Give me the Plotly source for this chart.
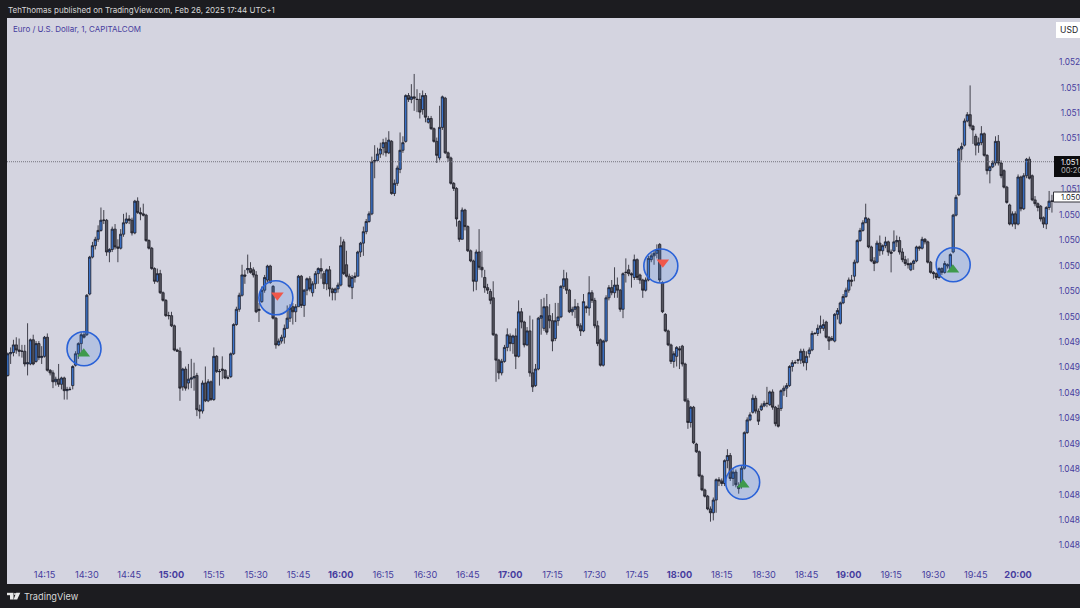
import plotly.graph_objects as go

PRICE_BASE = 1.04
FIRST_MINUTE = 842  # 14:02

opens_pts = [
953,970,971,977,973,972,972,962,962,981,964,978,967,968,983,957,955,948,950,946,
951,941,942,945,961,970,978,985,985,1017,1046,1055,1060,1067,1075,1075,1050,1052,1068,1054,
1053,1064,1073,1076,1075,1065,1090,1081,1080,1079,1059,1053,1037,1027,1033,1018,1012,1000,1000,992,
973,972,944,958,947,950,951,953,926,925,947,933,948,934,968,956,958,957,951,952,
970,993,1005,1016,1032,1036,1037,1036,1032,1004,1011,1020,1028,1039,1023,998,977,980,983,990,
998,1007,1003,1007,1031,1008,1020,1029,1018,1025,1033,1037,1033,1025,1036,1021,1018,1021,1024,1058,
1040,1031,1022,1030,1031,1050,1057,1066,1074,1080,1121,1122,1127,1132,1136,1128,1137,1096,1104,1115,
1130,1137,1173,1170,1172,1170,1170,1162,1173,1152,1155,1147,1137,1124,1148,1171,1128,1124,1104,1100,
1074,1060,1083,1070,1051,1043,1027,1050,1038,1030,1022,1019,1014,985,965,955,964,975,984,978,
984,968,1003,995,977,988,955,945,958,998,990,1007,1000,996,982,996,999,1023,1029,1020,
1003,1005,1007,992,988,1007,1006,1018,1012,992,981,961,980,1014,1022,1018,1024,1020,1005,1034,
1036,1033,1030,1044,1032,1028,1020,1028,1044,1047,1049,1056,1026,1001,988,977,964,968,974,976,
962,933,916,928,899,893,874,863,858,848,845,855,871,870,868,886,890,872,877,866,
866,880,908,918,924,935,925,926,929,931,930,940,928,927,927,941,943,945,960,963,
965,965,972,963,970,973,986,986,990,990,995,983,981,980,1001,994,1010,1015,1020,1028,
1031,1042,1059,1067,1073,1076,1054,1043,1042,1057,1051,1055,1058,1050,1051,1058,1059,1050,1044,1041,
1036,1041,1043,1054,1053,1060,1058,1042,1034,1033,1030,1037,1034,1039,1037,1050,1079,1095,1131,1134,
1153,1158,1149,1141,1134,1136,1143,1126,1114,1117,1120,1137,1120,1114,1101,1087,1072,1080,1072,1109,
1084,1110,1123,1110,1091,1088,1086,1077,1072,1085,1090,
]
highs_pts = [
971,975,981,983,982,977,977,994,982,985,980,980,976,984,986,958,957,952,962,952,
952,944,944,961,972,979,987,988,1017,1047,1058,1062,1071,1085,1083,1076,1053,1070,1072,1060,
1068,1080,1081,1079,1077,1091,1093,1085,1088,1080,1060,1054,1038,1037,1036,1019,1013,1003,1003,993,
974,975,959,960,962,966,963,955,930,949,960,950,949,975,969,958,968,958,953,971,
994,1007,1018,1040,1036,1048,1042,1038,1035,1010,1023,1032,1040,1040,1024,999,982,985,993,1008,
1009,1010,1009,1032,1032,1021,1030,1031,1027,1035,1038,1045,1035,1037,1039,1022,1022,1026,1062,1060,
1051,1033,1032,1034,1051,1058,1070,1076,1082,1125,1134,1132,1136,1139,1140,1145,1138,1107,1118,1144,
1141,1174,1175,1182,1190,1178,1175,1177,1175,1157,1157,1148,1140,1165,1173,1172,1129,1125,1105,1101,
1075,1085,1084,1071,1052,1044,1052,1068,1051,1036,1025,1021,1027,986,966,966,977,990,986,985,
990,1012,1006,996,991,1000,997,962,999,1013,1014,1017,1009,1002,1010,1010,1024,1036,1034,1021,
1007,1013,1010,994,1017,1008,1031,1020,1014,996,982,981,1016,1024,1028,1038,1030,1021,1034,1045,
1040,1034,1048,1045,1033,1029,1030,1047,1049,1051,1056,1057,1027,1002,989,978,972,976,976,977,
963,935,929,929,900,894,875,864,859,850,857,872,873,872,887,895,892,880,879,869,
882,909,920,924,938,937,927,931,933,944,941,942,929,930,942,945,947,961,965,965,
966,974,974,972,975,988,987,993,1000,997,996,984,984,1002,1006,1011,1017,1022,1030,1032,
1044,1060,1069,1075,1088,1077,1055,1046,1059,1063,1056,1062,1059,1052,1067,1063,1062,1053,1047,1045,
1042,1044,1055,1055,1062,1061,1059,1043,1035,1034,1038,1038,1043,1041,1049,1080,1095,1132,1136,1155,
1160,1181,1150,1143,1140,1149,1144,1127,1118,1122,1141,1142,1122,1115,1102,1088,1082,1082,1111,1110,
1112,1124,1125,1111,1094,1089,1087,1078,1086,1098,1095,
]
lows_pts = [
952,962,968,970,968,967,960,953,961,961,963,965,962,967,956,953,943,945,944,942,
934,934,941,942,960,966,970,982,984,1016,1045,1052,1058,1066,1072,1047,1042,1050,1052,1042,
1052,1062,1072,1072,1063,1064,1080,1075,1078,1058,1052,1036,1025,1026,1017,1011,999,997,991,972,
972,933,941,941,942,943,941,921,919,923,932,932,933,933,955,945,950,950,950,951,
969,992,1003,1015,1025,1033,1033,1030,1002,995,1010,1018,1026,1025,997,974,976,978,978,990,
995,993,995,1007,1006,999,1016,1019,1015,1021,1025,1029,1021,1020,1015,1012,1012,1018,1023,1032,
1030,1022,1013,1026,1031,1046,1047,1064,1073,1079,1108,1122,1124,1126,1125,1127,1095,1094,1102,1112,
1128,1136,1168,1167,1161,1160,1155,1158,1152,1151,1146,1136,1120,1122,1146,1127,1121,1103,1098,1070,
1058,1060,1067,1050,1042,1019,1020,1036,1030,1018,1017,1009,984,948,950,953,963,972,972,970,
958,967,990,975,976,952,940,944,957,985,988,985,990,972,980,992,998,1021,1017,1002,
1000,998,990,984,987,1002,1000,1010,990,976,960,960,979,1012,1016,1014,1014,1003,998,1026,
1031,1022,1028,1028,1025,1014,1019,1027,1042,1040,1045,1026,1002,987,976,962,959,960,958,960,
932,911,912,899,892,873,862,857,847,838,839,845,866,866,866,880,870,866,865,860,
864,879,907,917,923,923,914,925,928,928,929,926,913,912,925,937,936,944,956,962,
962,962,960,957,967,972,985,984,986,988,982,973,980,979,997,993,1009,1014,1018,1023,
1027,1041,1058,1066,1073,1053,1042,1035,1041,1047,1048,1053,1047,1034,1050,1054,1048,1042,1039,1037,
1035,1036,1042,1051,1052,1056,1041,1033,1029,1028,1029,1032,1033,1037,1036,1049,1078,1094,1122,1133,
1152,1147,1135,1126,1128,1134,1125,1111,1104,1116,1118,1118,1108,1100,1088,1071,1070,1068,1071,1082,
1083,1108,1107,1090,1086,1082,1074,1069,1068,1083,1081,
]
closes_pts = [
970,971,977,973,972,972,962,963,981,962,978,967,968,983,957,955,948,950,946,951,
941,942,942,960,970,978,985,983,1016,1046,1055,1060,1067,1075,1075,1050,1052,1068,1054,1053,
1064,1073,1076,1075,1065,1090,1081,1080,1079,1059,1053,1037,1027,1033,1018,1012,1000,1000,992,973,
972,943,958,943,950,951,952,926,925,947,933,948,934,968,956,956,957,951,951,970,
993,1005,1016,1032,1031,1037,1034,1032,1003,1005,1020,1030,1039,1026,998,977,980,983,990,998,
1006,1003,1007,1031,1008,1020,1029,1021,1025,1033,1037,1035,1025,1036,1021,1018,1021,1024,1055,1033,
1031,1023,1030,1031,1050,1057,1066,1074,1080,1121,1122,1127,1131,1136,1128,1138,1096,1104,1116,1130,
1136,1173,1170,1172,1171,1170,1160,1173,1156,1155,1147,1137,1126,1148,1172,1128,1124,1104,1100,1076,
1060,1083,1070,1051,1043,1027,1050,1038,1036,1022,1020,1012,985,965,955,964,975,985,978,984,
968,1003,995,977,988,955,944,958,998,1000,1007,987,996,980,996,999,1023,1029,1020,1003,
1005,1007,992,988,1011,1006,1018,1012,992,978,961,980,1014,1022,1018,1024,1020,1005,1033,1034,
1033,1032,1044,1030,1028,1020,1028,1045,1047,1049,1052,1028,1003,988,977,964,970,975,973,962,
933,916,928,900,893,874,863,858,848,845,855,871,870,868,886,890,872,877,867,864,
880,908,918,922,935,925,917,929,931,931,940,928,915,913,941,943,945,960,963,963,
965,972,963,968,973,986,986,990,992,993,983,980,982,1001,1004,1010,1015,1020,1028,1027,
1042,1059,1067,1073,1077,1054,1043,1041,1057,1051,1055,1058,1050,1049,1058,1059,1050,1044,1041,1040,
1041,1043,1054,1053,1060,1058,1042,1034,1033,1030,1037,1034,1041,1040,1048,1079,1093,1131,1133,1153,
1158,1149,1146,1134,1136,1143,1126,1114,1117,1120,1137,1120,1110,1101,1089,1072,1080,1072,1109,1084,
1110,1123,1108,1091,1088,1085,1076,1072,1085,1090,1090,
]

tick_prices = [1.0520, 1.0518, 1.0516, 1.0514, 1.0510, 1.0508, 1.0506, 1.0504, 1.0502,
               1.0500, 1.0498, 1.0496, 1.0494, 1.0492, 1.0490, 1.0488, 1.0486, 1.0484, 1.0482]
tick_price_labels = ["1.052", "1.051", "1.051", "1.051", "1.051", "1.050", "1.050", "1.050", "1.050",
                     "1.050", "1.049", "1.049", "1.049", "1.049", "1.049", "1.048", "1.048", "1.048", "1.048"]
time_ticks = [855, 870, 885, 900, 915, 930, 945, 960, 975, 990, 1005, 1020, 1035, 1050, 1065, 1080,
              1095, 1110, 1125, 1140, 1155, 1170, 1185, 1200]
time_labels = ["14:15", "14:30", "14:45", "<b>15:00</b>", "15:15", "15:30", "15:45", "<b>16:00</b>",
               "16:15", "16:30", "16:45", "<b>17:00</b>", "17:15", "17:30", "17:45", "<b>18:00</b>",
               "18:15", "18:30", "18:45", "<b>19:00</b>", "19:15", "19:30", "19:45", "<b>20:00</b>"]

circle_minutes = [869, 937, 1073.4, 1102.4, 1177]
circle_pts = [974, 1013.5, 1039.5, 869.5, 1040]
buy_minutes = [868.9, 1102.6, 1176.9]
buy_pts = [970, 867, 1036]
sell_minutes = [937.5, 1074.1]
sell_pts = [1016, 1042]
last_price = 1.05121

W, H = 1080, 608
L, R, T, B = 7, 0, 18, 24
PW, PH = W - L - R, H - T - B
BG = "#d4d4e0"
DARK = "#1c1c20"
INK = "#463c9e"
FONT = "Inter, Roboto, sans-serif"


def price(values):
    return [round(PRICE_BASE + v / 1e5, 5) for v in values]


def px(x):
    return (x - L) / PW


def py(y):
    return 1 - (y - T) / PH


minutes = [FIRST_MINUTE + i for i in range(len(closes_pts))]

fig = go.Figure()
fig.add_trace(go.Candlestick(
    x=minutes, open=price(opens_pts), high=price(highs_pts), low=price(lows_pts), close=price(closes_pts),
    increasing=dict(fillcolor="#3b74cc", line=dict(color="#1d1d27", width=0.8)),
    decreasing=dict(fillcolor="#55555f", line=dict(color="#1d1d27", width=0.8)),
    whiskerwidth=0, showlegend=False, hoverinfo="skip",
))
fig.add_trace(go.Scatter(
    x=circle_minutes, y=price(circle_pts), mode="markers", showlegend=False, hoverinfo="skip",
    marker=dict(symbol="circle", size=34, color="rgba(60,125,225,0.2)", line=dict(color="#2a62d8", width=1.6)),
))
fig.add_trace(go.Scatter(
    x=buy_minutes, y=price(buy_pts), mode="markers", showlegend=False, hoverinfo="skip",
    marker=dict(symbol="triangle-up", size=11, color="#3f9a4c", line=dict(width=0)),
))
fig.add_trace(go.Scatter(
    x=sell_minutes, y=price(sell_pts), mode="markers", showlegend=False, hoverinfo="skip",
    marker=dict(symbol="triangle-down", size=11, color="#f0574a", line=dict(width=0)),
))

shapes = [
    dict(type="line", xref="paper", yref="y", x0=0, x1=1, y0=last_price, y1=last_price,
         line=dict(color="#74747e", width=1, dash="1px,1px")),
    # last-price label
    dict(type="rect", xref="paper", yref="paper", x0=px(1054), x1=px(1080), y0=py(177), y1=py(156),
         fillcolor="#0c0c0e", line=dict(width=0)),
    # close label
    dict(type="rect", xref="paper", yref="paper", x0=px(1053.5), x1=px(1081), y0=py(202), y1=py(192),
         fillcolor="#ffffff", line=dict(color="#33333a", width=1)),
    # currency button
    dict(type="rect", xref="paper", yref="paper", x0=px(1056), x1=px(1081), y0=py(38), y1=py(22),
         fillcolor="#ffffff", line=dict(width=0)),
    # logo
    dict(type="rect", xref="paper", yref="paper", x0=px(7), x1=px(13.5), y0=py(595.2), y1=py(592.8),
         fillcolor="#e8e8e8", line=dict(width=0)),
    dict(type="rect", xref="paper", yref="paper", x0=px(10), x1=px(13.5), y0=py(599.5), y1=py(595),
         fillcolor="#e8e8e8", line=dict(width=0)),
    dict(type="circle", xref="paper", yref="paper", x0=px(14), x1=px(16), y0=py(595), y1=py(593),
         fillcolor="#e8e8e8", line=dict(width=0)),
    dict(type="path", xref="paper", yref="paper",
         path=f"M{px(16.2)},{py(592.8)} L{px(20.3)},{py(592.8)} L{px(17.2)},{py(599.5)} L{px(13.6)},{py(599.5)} Z",
         fillcolor="#e8e8e8", line=dict(width=0)),
]


def note(text, x, y, size, color, anchor="left"):
    return dict(text=text, xref="paper", yref="paper", x=px(x), y=py(y), showarrow=False,
                xanchor=anchor, yanchor="middle", font=dict(family=FONT, size=size, color=color),
                borderpad=0)


annotations = [
    note("TehThomas published on TradingView.com, Feb 26, 2025 17:44 UTC+1", 7, 10, 8, "#d6d6d6"),
    note("Euro / U.S. Dollar, 1, CAPITALCOM", 12, 29, 8, INK),
    note("USD", 1068.5, 30, 8.6, "#222228", anchor="center"),
    note("1.051", 1059.5, 162, 7.6, "#f4f4f4"),
    note("00:20", 1059.5, 171, 7.6, "#b0b0b0"),
    note("1.050", 1059.5, 197, 7.6, "#222228"),
    note("TradingView", 22.5, 596.5, 9.2, "#d8d8d8"),
]

fig.update_layout(
    width=W, height=H, autosize=False,
    margin=dict(l=L, r=R, t=T, b=B, pad=0),
    paper_bgcolor=DARK, plot_bgcolor=BG,
    font=dict(family=FONT, size=8.6, color=INK),
    showlegend=False, boxgap=0.1, boxgroupgap=0.1,
    shapes=shapes, annotations=annotations,
    xaxis=dict(
        range=[841.71, 1221.94], tickmode="array", tickvals=time_ticks, ticktext=time_labels,
        showgrid=False, zeroline=False, showline=False, ticks="",
        ticklabelposition="inside", ticklabelstandoff=1, rangeslider=dict(visible=False),
        tickfont=dict(family=FONT, size=9.2, color=INK),
    ),
    yaxis=dict(
        range=[1.04789, 1.05234], side="right", tickmode="array", tickvals=tick_prices,
        ticktext=tick_price_labels, showgrid=False, zeroline=False, showline=False, ticks="",
        ticklabelposition="inside", ticklabelstandoff=-3, ticklabelshift=1,
        tickfont=dict(family=FONT, size=8.3, color=INK),
    ),
)

fig.write_html("out.html", config={"displayModeBar": False},
               post_script="document.body.style.margin='0';document.body.style.overflow='hidden';")
